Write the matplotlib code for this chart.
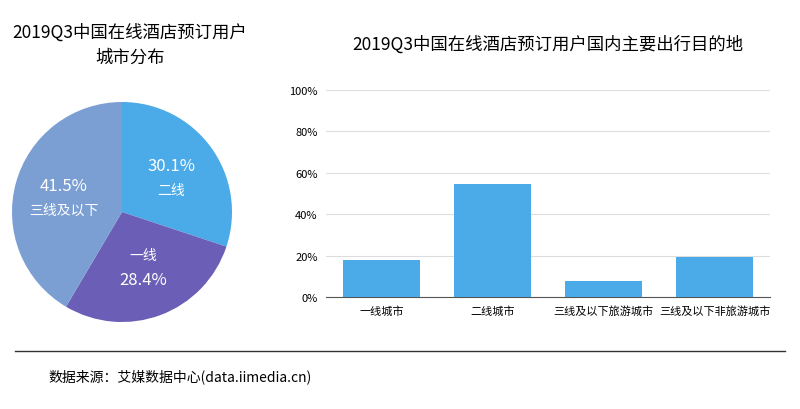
import matplotlib
matplotlib.use("Agg")
import matplotlib.pyplot as plt
from matplotlib.lines import Line2D
import numpy as np

plt.rcParams['font.family'] = ['Noto Sans CJK SC', 'DejaVu Sans']

pie_labels = ['二线', '一线', '三线及以下']
pie_values = [30.1, 28.4, 41.5]
pie_colors = ['#4BAAE8', '#6B5EB6', '#7B9FD3']

bar_cats = ['一线城市', '二线城市', '三线及以下旅游城市', '三线及以下非旅游城市']
bar_vals = [0.179, 0.546, 0.077, 0.193]
yticks = [0, 0.2, 0.4, 0.6, 0.8, 1.0]

fig = plt.figure(figsize=(8, 4.1), dpi=100)

axp = fig.add_axes([12/800, 87/410, 220/800, 220/410])
wedges, _ = axp.pie(pie_values, colors=pie_colors, startangle=90, counterclock=False,
                    wedgeprops=dict(linewidth=0))
for w, lab, v in zip(wedges, pie_labels, pie_values):
    ang = np.deg2rad((w.theta1 + w.theta2) / 2)
    r = 0.55
    x, y = r*np.cos(ang), r*np.sin(ang)
    if lab == '一线':
        axp.text(x, y+0.12, lab, ha='center', va='center', color='white', fontsize=10)
        axp.text(x, y-0.1, f'{v}%', ha='center', va='center', color='white', fontsize=12)
    else:
        axp.text(x, y+0.1, f'{v}%', ha='center', va='center', color='white', fontsize=12)
        axp.text(x, y-0.12, lab, ha='center', va='center', color='white', fontsize=10)
axp.set_xlim(-1, 1)
axp.set_ylim(-1, 1)
axp.set_aspect('equal')
fig.text(130/800, 1-45/410, '2019Q3中国在线酒店预订用户\n城市分布', ha='center', va='center',
         fontsize=12.5, linespacing=1.5)

axb = fig.add_axes([326/800, 112/410, 444/800, 207/410])
axb.bar(range(len(bar_cats)), bar_vals, width=0.7, color='#4BAAE8', zorder=3)
axb.set_xlim(-0.5, 3.5)
axb.set_ylim(0, 1.0)
axb.set_yticks(yticks)
axb.set_yticklabels([f'{int(t*100)}%' for t in yticks], fontsize=8)
axb.set_xticks(range(len(bar_cats)))
axb.set_xticklabels(bar_cats, fontsize=8)
axb.tick_params(length=0, pad=6)
axb.grid(axis='y', color='#dddddd', linewidth=0.8, zorder=0)
for s in ['top', 'right', 'left']:
    axb.spines[s].set_visible(False)
axb.spines['bottom'].set_color('#555555')
fig.text(548/800, 1-45/410, '2019Q3中国在线酒店预订用户国内主要出行目的地', ha='center',
         va='center', fontsize=12.5)

fig.add_artist(Line2D([15/800, 785/800], [1-352/410]*2, color='#333333', linewidth=1))
fig.text(48/800, 1-377/410, '数据来源：艾媒数据中心(data.iimedia.cn)', ha='left', va='center',
         fontsize=10)

fig.savefig('out.png', dpi=100)
